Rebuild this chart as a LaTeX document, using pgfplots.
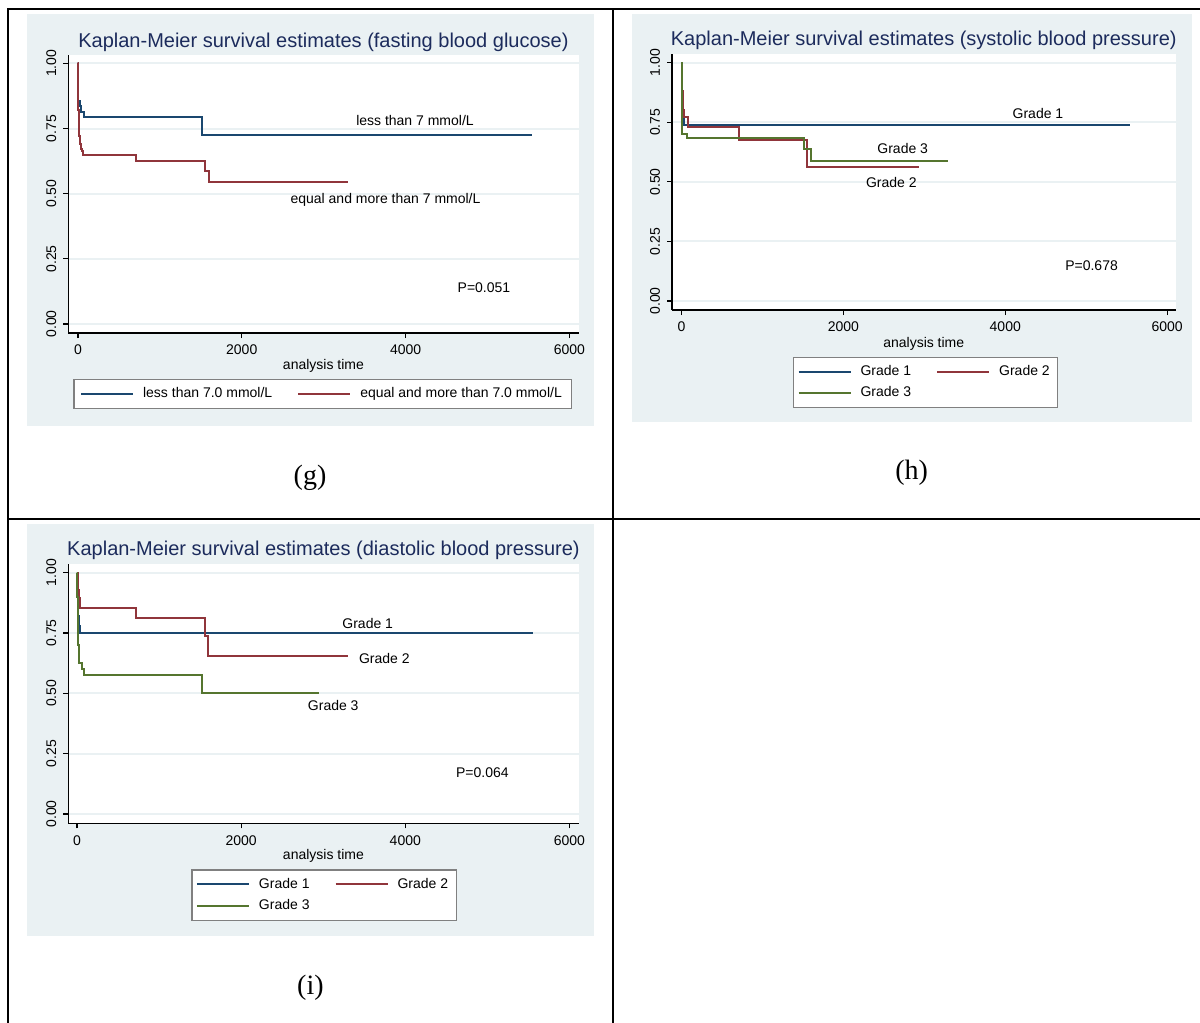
\documentclass[border=0pt]{standalone}
\usepackage{pgfplots}
\pgfplotsset{compat=1.18}
\usepackage{fontspec}
\setmainfont{Liberation Sans}
\newfontfamily\capfont{Liberation Serif}
\definecolor{sblue}{RGB}{26,71,111}
\definecolor{sred}{RGB}{144,53,59}
\definecolor{sgreen}{RGB}{85,117,47}
\definecolor{bgc}{RGB}{234,241,243}
\definecolor{ttl}{RGB}{28,43,92}
\newcommand{\sm}{\fontsize{7}{8}\selectfont}
\pgfplotsset{
 km/.style={
  scale only axis,
  axis x line*=bottom, axis y line*=left,
  axis line style={line width=0.8pt, black},
  axis background/.style={fill=white},
  tick align=outside,
  major tick length=2.5pt,
  tick style={line width=0.6pt, black},
  ytick={0,0.25,0.5,0.75,1},
  xtick={0,2000,4000,6000},
  yticklabel style={/pgf/number format/fixed, /pgf/number format/fixed zerofill, /pgf/number format/precision=2, rotate=90, anchor=south},
  xticklabel style={/pgf/number format/1000 sep={}},
  /pgf/number format/assume math mode=true,
  ymajorgrids,
  major grid style={bgc, line width=1pt},
  tick label style={font=\sm},
  label style={font=\sm},
  every axis title/.style={at={(0.5,1)}, anchor=center, font=\fontsize{10}{12}\selectfont, text=ttl},
  xlabel={analysis time},
  every axis plot/.append style={const plot, line width=1pt, no marks},
  legend image code/.code={\draw[##1, line width=1pt] (0pt,0pt) -- (26pt,0pt);},
  legend cell align=left,
  legend style={draw=gray, line width=0.6pt, fill=white, font=\sm, anchor=north west, inner xsep=2pt, inner ysep=2pt,
    /tikz/every odd column/.append style={column sep=2.5pt},
    /tikz/every even column/.append style={column sep=10.5pt}},
 }
}
\begin{document}
\begin{tikzpicture}[x=0.5pt, y=-0.5pt]
\useasboundingbox (0,0) rectangle (1200,1023);
% panel backgrounds
\fill[bgc] (27,14) rectangle (594,426);
\fill[bgc] (631.8,14) rectangle (1192,421.7);
\fill[bgc] (27,524) rectangle (594,936);
% table rules
\draw[line width=1pt] (8,1023) -- (8,9) -- (1200,9);
\draw[line width=1pt] (613,9) -- (613,1023);
\draw[line width=1pt] (8,519) -- (1200,519);
\coordinate (gSW) at (68.4,333);
\coordinate (hSW) at (672,310);
\coordinate (iSW) at (68.4,823.3);

% (g)
\begin{axis}[km, at={(gSW)}, anchor=south west,
  width=255.05pt, height=139pt,
  xmin=-116, xmax=6111, ymin=-0.0345, ymax=1.032,
  title={Kaplan-Meier survival estimates (fasting blood glucose)},
  title style={at={(0.5,1.047)}},
  xlabel style={at={(0.5,-0.1115)}, anchor=center, yshift=-1pt},
  legend columns=2,
  legend style={at={(0.01,-0.1655)}, inner xsep=3pt},
]
\addplot[sblue] coordinates {(0,1) (2,0.95) (4,0.90) (6,0.855) (20,0.836) (35,0.815) (75,0.794) (1518,0.727) (5544,0.727)};
\addlegendentry{less than 7.0 mmol/L}
\addplot[sred] coordinates {(0,1) (3,0.9) (6,0.82) (10,0.76) (15,0.72) (25,0.69) (40,0.67) (50,0.663) (65,0.648) (712,0.627) (1551,0.588) (1595,0.546) (3302,0.546)};
\addlegendentry{equal and more than 7.0 mmol/L}
\node[font=\sm] at (axis cs:4115,0.779) {less than 7 mmol/L};
\node[font=\sm] at (axis cs:3755,0.476) {equal and more than 7 mmol/L};
\node[font=\sm] at (axis cs:4957,0.138) {P=0.051};
\end{axis}

% (h)
\begin{axis}[km, at={(hSW)}, anchor=south west,
  width=251.75pt, height=128pt,
  xmin=-117, xmax=6103, ymin=-0.0378, ymax=1.0365,
  title={Kaplan-Meier survival estimates (systolic blood pressure)},
  title style={at={(0.5,1.052)}},
  xlabel style={at={(0.5,-0.124)}, anchor=center, yshift=-1pt},
  legend columns=2,
  legend style={at={(0.2403,-0.1824)}},
]
\addplot[sblue] coordinates {(0,1) (5,0.9) (10,0.82) (20,0.78) (30,0.737) (5536,0.737)};
\addlegendentry{Grade 1}
\addplot[sred] coordinates {(0,1) (5,0.88) (15,0.8) (31,0.771) (80,0.730) (710,0.676) (1550,0.561) (2933,0.561)};
\addlegendentry{Grade 2}
\addplot[sgreen] coordinates {(0,1) (3,0.9) (6,0.8) (10,0.70) (64,0.683) (1512,0.639) (1599,0.589) (3295,0.589)};
\addlegendentry{Grade 3}
\node[font=\sm] at (axis cs:4404,0.788) {Grade 1};
\node[font=\sm] at (axis cs:2733,0.642) {Grade 3};
\node[font=\sm] at (axis cs:2593,0.499) {Grade 2};
\node[font=\sm] at (axis cs:5066,0.147) {P=0.678};
\end{axis}

% (i)
\begin{axis}[km, at={(iSW)}, anchor=south west,
  width=255.05pt, height=129.65pt,
  xmin=-106, xmax=6111, ymin=-0.0385, ymax=1.036,
  title={Kaplan-Meier survival estimates (diastolic blood pressure)},
  title style={at={(0.5,1.051)}},
  xlabel style={at={(0.5,-0.1196)}, anchor=center, yshift=-1pt},
  legend columns=2,
  legend style={at={(0.2411,-0.1774)}},
]
\addplot[sblue] coordinates {(0,1) (5,0.9) (15,0.82) (27,0.78) (35,0.751) (5552,0.751)};
\addlegendentry{Grade 1}
\addplot[sred] coordinates {(0,1) (5,0.95) (10,0.93) (19,0.894) (35,0.855) (713,0.812) (1557,0.739) (1600,0.656) (3301,0.656)};
\addlegendentry{Grade 2}
\addplot[sgreen] coordinates {(0,1) (4,0.9) (8,0.8) (12,0.7) (19,0.627) (64,0.599) (80,0.577) (1518,0.503) (2954,0.503)};
\addlegendentry{Grade 3}
\node[font=\sm] at (axis cs:3542,0.790) {Grade 1};
\node[font=\sm] at (axis cs:3744,0.646) {Grade 2};
\node[font=\sm] at (axis cs:3122,0.448) {Grade 3};
\node[font=\sm] at (axis cs:4940,0.173) {P=0.064};
\end{axis}

% captions
\node[font=\capfont\fontsize{14}{16}\selectfont] at (310,478) {(g)};
\node[font=\capfont\fontsize{14}{16}\selectfont] at (911.7,472.7) {(h)};
\node[font=\capfont\fontsize{14}{16}\selectfont] at (310.4,987.7) {(i)};
\end{tikzpicture}
\end{document}
